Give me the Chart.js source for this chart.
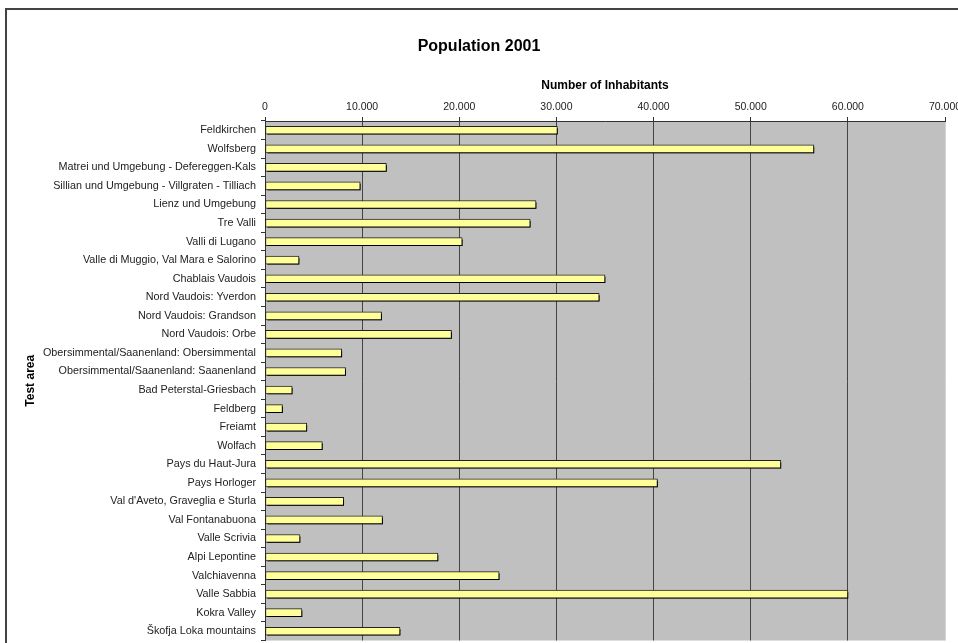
<!DOCTYPE html>
<html>
<head>
<meta charset="utf-8">
<title>Population 2001</title>
<script src="https://cdn.jsdelivr.net/npm/chart.js@4.4.1/dist/chart.umd.min.js"></script>
<style>
  html, body { margin: 0; padding: 0; background: #fff; overflow: hidden; width: 958px; height: 643px; }
  #wrap { position: absolute; left: 0; top: 0; width: 1000px; height: 652px; }
  #frame { position: absolute; left: 5px; top: 8px; width: 1100px; height: 700px;
           border-left: 2px solid #444; border-top: 2px solid #444; pointer-events: none; }
</style>
</head>
<body>
<div id="wrap"><canvas id="chart" width="1000" height="652"></canvas></div>
<div id="frame"></div>
<script>
// Study areas, top to bottom
const areas = [
  'Feldkirchen',
  'Wolfsberg',
  'Matrei und Umgebung - Defereggen-Kals',
  'Sillian und Umgebung - Villgraten - Tilliach',
  'Lienz und Umgebung',
  'Tre Valli',
  'Valli di Lugano',
  'Valle di Muggio, Val Mara e Salorino',
  'Chablais Vaudois',
  'Nord Vaudois: Yverdon',
  'Nord Vaudois: Grandson',
  'Nord Vaudois: Orbe',
  'Obersimmental/Saanenland: Obersimmental',
  'Obersimmental/Saanenland: Saanenland',
  'Bad Peterstal-Griesbach',
  'Feldberg',
  'Freiamt',
  'Wolfach',
  'Pays du Haut-Jura',
  'Pays Horloger',
  "Val d'Aveto, Graveglia e Sturla",
  'Val Fontanabuona',
  'Valle Scrivia',
  'Alpi Lepontine',
  'Valchiavenna',
  'Valle Sabbia',
  'Kokra Valley',
  'Škofja Loka mountains'
];

// Inhabitants in 2001
const inhabitants = [
  30100, 56500, 12500, 9800, 27900, 27300, 20300, 3500,
  35000, 34400, 12000, 19200, 7900, 8300, 2800, 1800,
  4300, 5900, 53100, 40400, 8100, 12100, 3600, 17800,
  24100, 60000, 3800, 13900
];

// Axis labels along the top
const xTickLabels = ['0', '10.000', '20.000', '30.000', '40.000', '50.000', '60.000', '70.000'];

const FONT = "'Liberation Sans', Arial, sans-serif";

// Grey plot background
const plotBackground = {
  id: 'plotBackground',
  beforeDraw(chart) {
    const { ctx, chartArea: a } = chart;
    ctx.save();
    ctx.fillStyle = '#c0c0c0';
    ctx.fillRect(a.left, a.top, a.right - a.left, a.bottom - a.top);
    ctx.restore();
  }
};

// Hard drop shadow under the bars
const barShadow = {
  id: 'barShadow',
  beforeDatasetsDraw(chart) {
    const ctx = chart.ctx;
    ctx.save();
    ctx.shadowColor = '#000';
    ctx.shadowOffsetX = 2;
    ctx.shadowOffsetY = 2;
    ctx.shadowBlur = 0;
  },
  afterDatasetsDraw(chart) {
    chart.ctx.restore();
  }
};

new Chart(document.getElementById('chart'), {
  type: 'bar',
  data: {
    labels: areas,
    datasets: [{
      label: 'Number of Inhabitants',
      data: inhabitants,
      backgroundColor: '#ffff99',
      borderColor: '#222',
      borderWidth: 1,
      borderSkipped: false,
      barThickness: 8
    }]
  },
  options: {
    indexAxis: 'y',
    responsive: false,
    animation: false,
    layout: { padding: { left: 13, right: 55, top: 0, bottom: 3 } },
    plugins: {
      legend: { display: false },
      tooltip: { enabled: false },
      title: {
        display: true,
        text: 'Population 2001',
        color: '#000',
        font: { family: FONT, size: 16, weight: 'bold' },
        padding: { top: 36.5, bottom: 8 }
      }
    },
    scales: {
      x: {
        position: 'top',
        min: 0,
        max: 70000,
        ticks: {
          stepSize: 10000,
          color: '#222',
          padding: 4,
          font: { family: FONT, size: 10.5 },
          callback: (v, i) => xTickLabels[i]
        },
        grid: {
          color: c => (c.tick && c.tick.value === 70000) ? '#d4d4d4' : '#444',
          tickColor: '#333',
          tickLength: 4,
          lineWidth: 1
        },
        border: { color: '#333', width: 1 },
        title: {
          display: true,
          text: 'Number of Inhabitants',
          color: '#000',
          font: { family: FONT, size: 12, weight: 'bold' },
          padding: { top: 15, bottom: 0 }
        },
        afterFit(scale) { scale.height = 57.3; }
      },
      y: {
        ticks: {
          color: '#222',
          padding: 5,
          autoSkip: false,
          font: { family: FONT, size: 10.8 }
        },
        grid: {
          offset: true,
          drawOnChartArea: false,
          tickColor: '#333',
          tickLength: 4
        },
        border: { color: '#333', width: 1 },
        title: {
          display: true,
          text: 'Test area',
          color: '#000',
          font: { family: FONT, size: 12, weight: 'bold' },
          padding: { top: 10, bottom: 0 }
        },
        afterFit(scale) { scale.width = 252; }
      }
    }
  },
  plugins: [plotBackground, barShadow]
});
</script>
</body>
</html>
